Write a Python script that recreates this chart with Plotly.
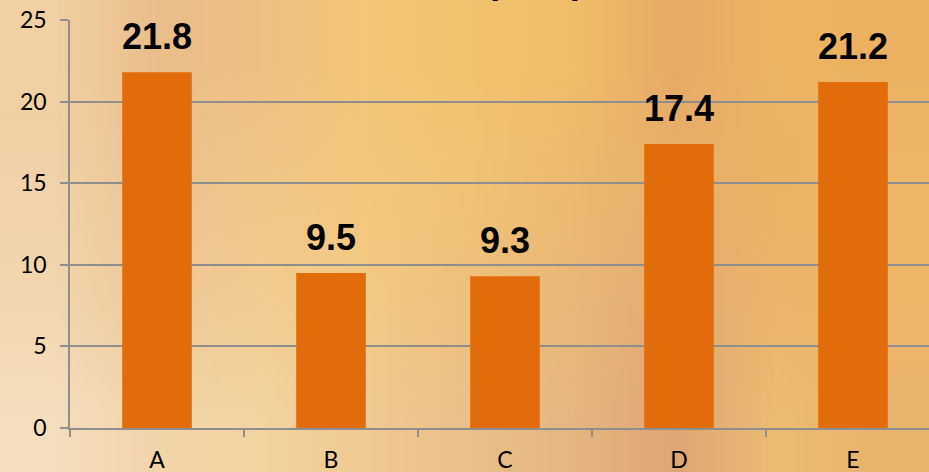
import base64
import struct
import zlib

import plotly.graph_objects as go

# ---- data -----------------------------------------------------------------
categories = ["A", "B", "C", "D", "E"]
values = [21.8, 9.5, 9.3, 17.4, 21.2]
y_ticks = [0, 5, 10, 15, 20, 25]
title_text = "(in %)"

# ---- styling ----------------------------------------------------------------
BAR_COLOR = "#E36C0A"
GRID_COLOR = "#8E8E8E"
W, H = 929, 472
M_L, M_R, M_T, M_B = 70, 0, 20, 44

# Warm wheat-toned backdrop: a coarse colour grid that the browser stretches
# smoothly over the whole page.
backdrop = [
    [(241, 208, 163), (234, 190, 140), (238, 192, 130), (243, 198, 120), (242, 195, 110),
     (240, 190, 105), (232, 170, 102), (238, 180, 100), (236, 178, 98)],
    [(242, 210, 168), (236, 195, 145), (240, 198, 135), (243, 200, 125), (240, 195, 118),
     (236, 186, 112), (230, 176, 108), (236, 178, 100), (238, 182, 105)],
    [(243, 214, 175), (238, 200, 152), (242, 204, 145), (243, 202, 132), (238, 192, 125),
     (233, 184, 120), (226, 172, 115), (236, 180, 108), (238, 182, 105)],
    [(245, 222, 190), (242, 212, 170), (243, 212, 162), (240, 202, 145), (235, 192, 137),
     (230, 183, 128), (222, 166, 116), (236, 188, 115), (232, 180, 110)],
]


def png_data_uri(rows):
    h = len(rows)
    w = len(rows[0])
    raw = b"".join(b"\x00" + bytes(c for px in row for c in px) for row in rows)

    def chunk(tag, data):
        body = tag + data
        return struct.pack(">I", len(data)) + body + struct.pack(">I", zlib.crc32(body) & 0xFFFFFFFF)

    png = (b"\x89PNG\r\n\x1a\n"
           + chunk(b"IHDR", struct.pack(">IIBBBBB", w, h, 8, 2, 0, 0, 0))
           + chunk(b"IDAT", zlib.compress(raw, 9))
           + chunk(b"IEND", b""))
    return "data:image/png;base64," + base64.b64encode(png).decode()


plot_w = W - M_L - M_R
plot_h = H - M_T - M_B

fig = go.Figure(
    go.Bar(
        x=categories,
        y=values,
        marker=dict(color=BAR_COLOR, line=dict(width=0)),
        hoverinfo="skip",
    )
)

label_font = dict(family="Liberation Sans, Arial, sans-serif", size=36, color="black")

# value labels above each bar
for cat, val in zip(categories, values):
    fig.add_annotation(
        x=cat, y=val, xref="x", yref="y",
        text=f"<b>{val:.1f}</b>",
        showarrow=False,
        yanchor="bottom",
        yshift=13,
        font=label_font,
    )

# chart title (runs off the top edge of the page)
fig.add_annotation(
    x=(535 - M_L) / plot_w, y=(H - M_B - 3) / plot_h,
    xref="paper", yref="paper",
    text=f"<b>{title_text}</b>",
    showarrow=False,
    xanchor="center", yanchor="bottom",
    font=label_font,
)

fig.add_layout_image(
    source=png_data_uri(backdrop),
    xref="paper", yref="paper",
    x=-M_L / plot_w, y=1 + M_T / plot_h,
    sizex=W / plot_w, sizey=H / plot_h,
    xanchor="left", yanchor="top",
    sizing="stretch", layer="below",
)

axis_font = dict(family="Lato, Carlito, sans-serif", size=23, color="black")

fig.update_layout(
    width=W, height=H, autosize=False,
    margin=dict(l=M_L, r=M_R, t=M_T, b=M_B, pad=0, autoexpand=False),
    paper_bgcolor="#EFC99A",
    plot_bgcolor="rgba(0,0,0,0)",
    bargap=0.6,
    showlegend=False,
    xaxis=dict(
        type="category",
        range=[-0.5, len(categories) - 0.5 - 11 / 174],
        tickson="boundaries",
        ticks="outside", ticklen=7, tickwidth=1.5, tickcolor=GRID_COLOR,
        showline=True, linecolor=GRID_COLOR, linewidth=1.5,
        showgrid=False, zeroline=False,
        tickfont=axis_font,
        ticklabelstandoff=11,
        automargin=False,
    ),
    yaxis=dict(
        range=[0, 25],
        tickvals=y_ticks,
        ticks="outside", ticklen=8, tickwidth=1.5, tickcolor=GRID_COLOR,
        showline=True, linecolor=GRID_COLOR, linewidth=1.5,
        showgrid=True, gridcolor=GRID_COLOR, gridwidth=1.5,
        zeroline=False,
        tickfont=axis_font,
        ticklabelstandoff=9,
        automargin=False,
    ),
)

fig.write_html("out.html")
